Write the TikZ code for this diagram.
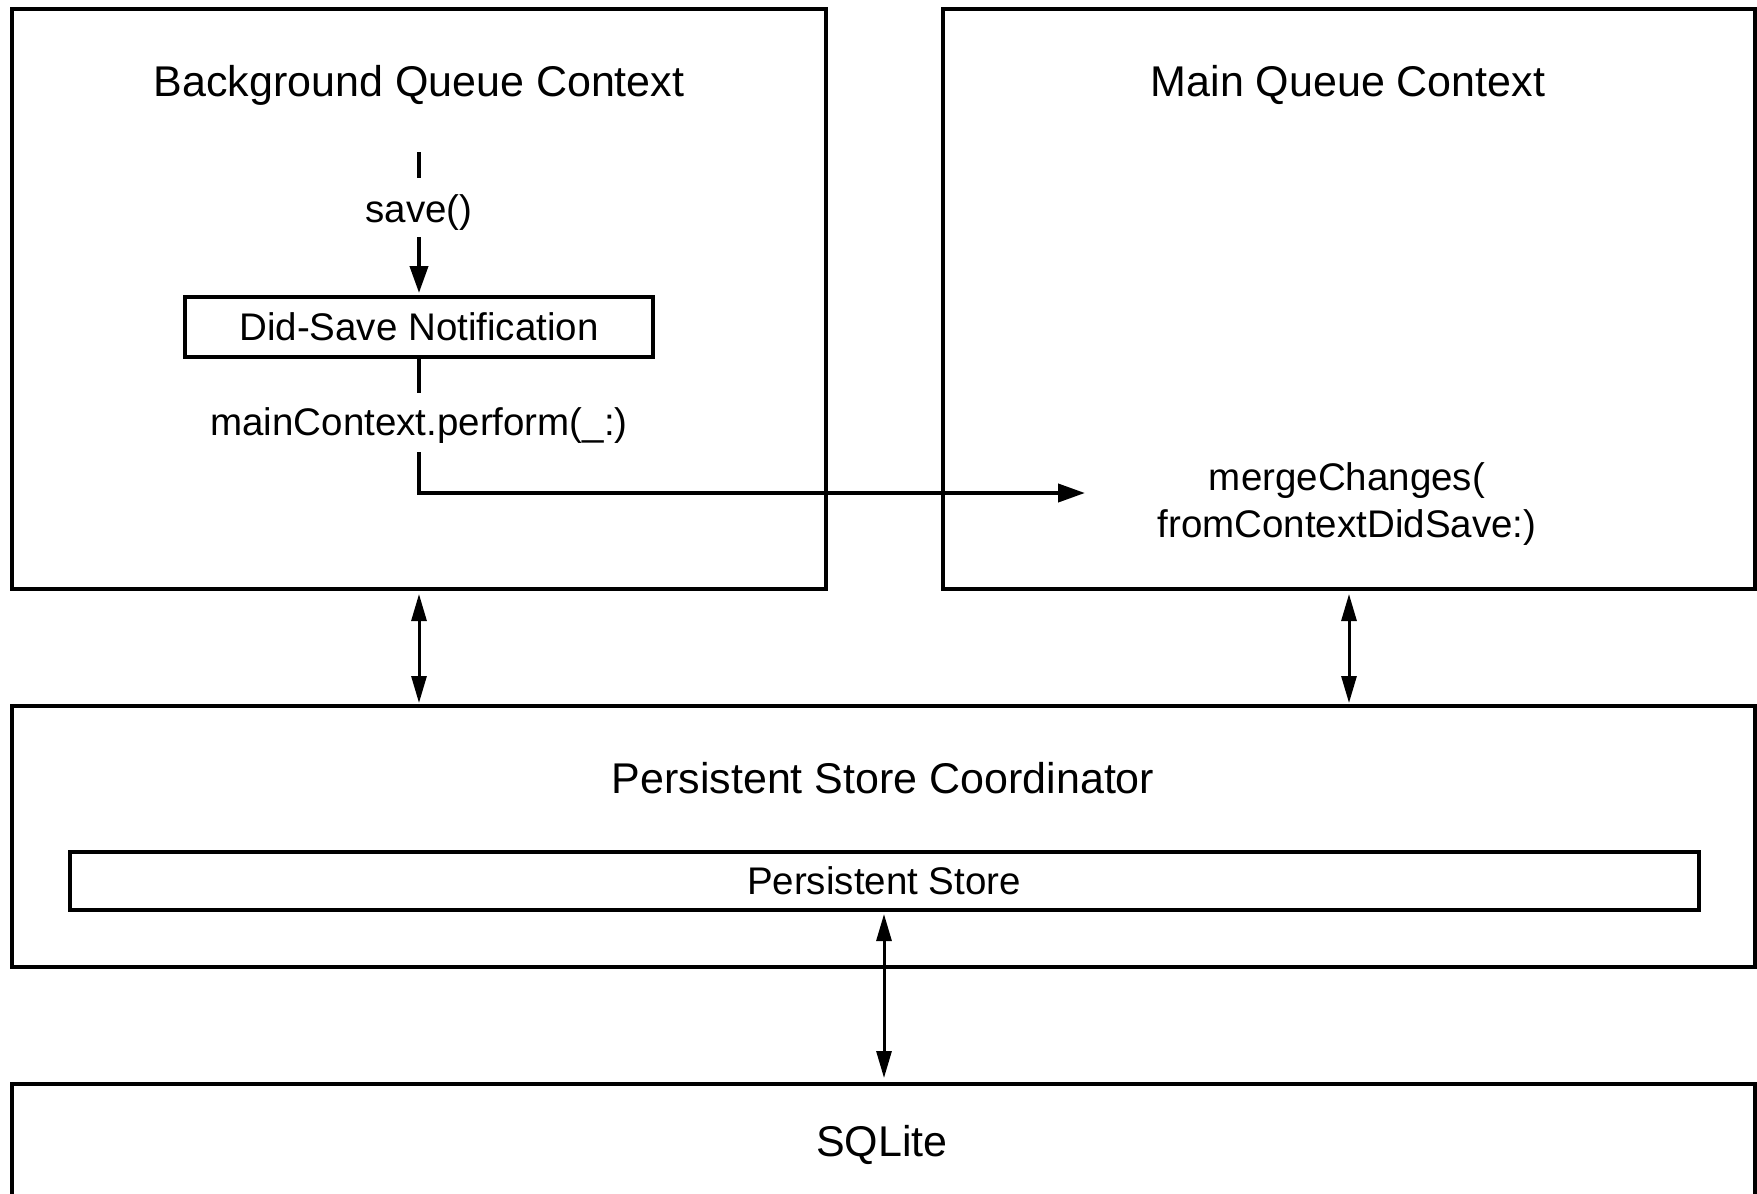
\documentclass[tikz,border=0pt]{standalone}
\usepackage{fontspec}
\setmainfont{Liberation Sans}
\usetikzlibrary{arrows.meta,calc}
\tikzset{
 box/.style={draw, line width=4pt, rectangle, inner sep=0pt},
 title/.style={anchor=base, font=\fontsize{43}{47}\selectfont, inner sep=0pt},
 small/.style={font=\fontsize{38.5}{47}\selectfont, inner sep=0pt},
 flow/.style={line width=4pt},
 flowarrow/.style={line width=4pt, -{Triangle[length=27pt,width=18pt]}},
 dbl/.style={line width=3pt, {Triangle[length=27pt,width=15pt]}-{Triangle[length=27pt,width=15pt]}},
}
\begin{document}
\begin{tikzpicture}[x=1pt,y=-1pt]
\clip (0,0) rectangle (1757,1194);
\fill[white] (0,0) rectangle (1757,1194);
% containers
\node[box, minimum width=814pt, minimum height=580.5pt] (bg) at (419,298.75) {};
\node[box, minimum width=812pt, minimum height=580.5pt] (main) at (1349,298.75) {};
\node[box, minimum width=1743pt, minimum height=261pt] (psc) at (883.5,836.5) {};
\node[box, small, minimum width=1629pt, minimum height=58pt] (ps) at (884,880.5) {Persistent Store};
\node[box, minimum width=1743pt, minimum height=216.5pt] (sql) at (883.5,1191.75) {};
% titles
\node[title] (bgt) at (419,96) {Background Queue Context};
\node[title] (mqt) at (1348,96) {Main Queue Context};
\node[title] (psct) at (883,793) {Persistent Store Coordinator};
\node[title] (sqlt) at (882,1156) {SQLite};
% flow in background context
\coordinate (savetop) at (419,152);
\node[small, anchor=base, text height=44pt, text depth=15pt] (save) at (419,222) {save()};
\node[box, small, minimum width=468pt, minimum height=60pt] (dsn) at (419,327) {Did-Save Notification};
\node[small, anchor=base, text height=42pt, text depth=17pt] (perf) at (419,435) {mainContext.perform(\_:)};
\coordinate (mergein) at (1085,493);
\node[small, align=center] (merge) at (1347,504) {mergeChanges(\\fromContextDidSave:)};
\draw[flow] (savetop) -- (save.north);
\draw[flowarrow, shorten >=2pt] (save.south) -- (dsn.north);
\draw[flow] (dsn.south) -- (perf.north);
\draw[flowarrow] (perf.south) |- (mergein);
% double arrows
\draw[dbl, shorten <=3pt, shorten >=1pt] (bg.south) -- (bg.south |- psc.north);
\draw[dbl, shorten <=3pt, shorten >=1pt] (main.south) -- (main.south |- psc.north);
\draw[dbl, shorten <=2.5pt, shorten >=3.5pt] (ps.south) -- (ps.south |- sql.north);
\end{tikzpicture}
\end{document}
